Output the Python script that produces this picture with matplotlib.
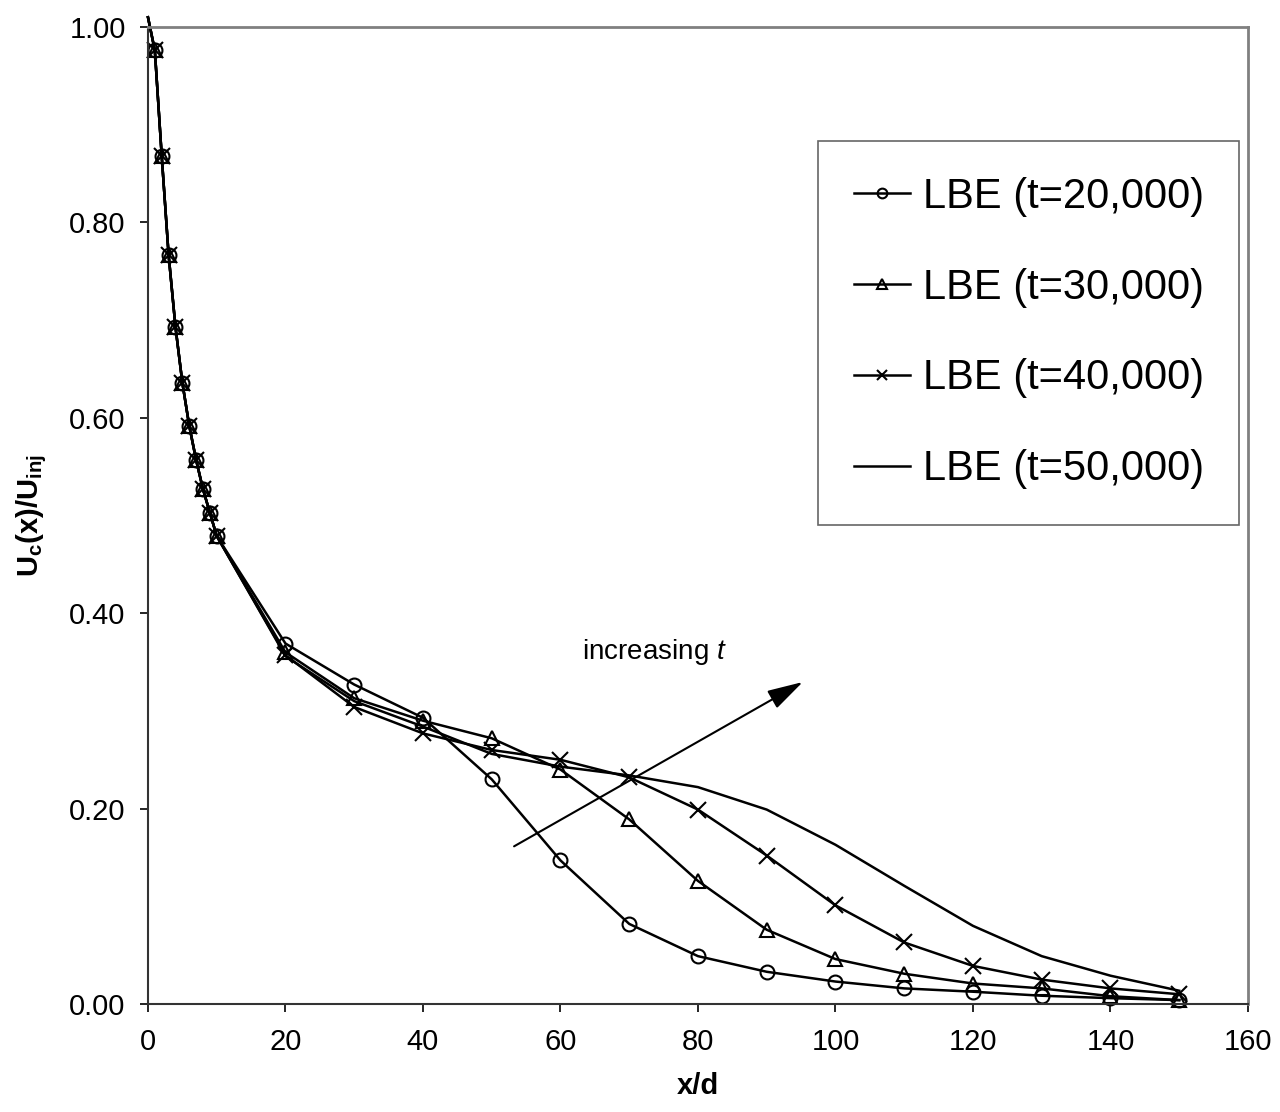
import numpy as np
import matplotlib
matplotlib.use("Agg")
import matplotlib.pyplot as plt

plt.rcParams['font.family'] = ['Liberation Sans', 'DejaVu Sans']
plt.rcParams['mathtext.fontset'] = 'custom'
plt.rcParams['mathtext.rm'] = 'Liberation Sans'
plt.rcParams['mathtext.it'] = 'Liberation Sans:italic'
plt.rcParams['mathtext.bf'] = 'Liberation Sans:bold'

# x/d positions (first point has no marker)
x_d = [0, 1, 2, 3, 4, 5, 6, 7, 8, 9, 10, 20, 30, 40, 50, 60, 70, 80, 90, 100, 110, 120, 130, 140, 150]

# near-field values shared by every run
near = [1.01, 0.976, 0.868, 0.767, 0.693, 0.636, 0.592, 0.557, 0.527, 0.503, 0.479]

t20k = near + [0.369, 0.327, 0.293, 0.230, 0.147, 0.082, 0.049, 0.033, 0.023, 0.016, 0.0126, 0.0085, 0.006, 0.004]
t30k = near + [0.360, 0.313, 0.290, 0.272, 0.240, 0.189, 0.126, 0.076, 0.046, 0.031, 0.021, 0.016, 0.008, 0.004]
t40k = near + [0.357, 0.304, 0.277, 0.260, 0.250, 0.232, 0.199, 0.152, 0.101, 0.063, 0.039, 0.025, 0.016, 0.010]
t50k = near + [0.356, 0.310, 0.284, 0.256, 0.243, 0.234, 0.222, 0.199, 0.163, 0.121, 0.080, 0.049, 0.029, 0.0136]

labels = ["LBE (t=20,000)", "LBE (t=30,000)", "LBE (t=40,000)", "LBE (t=50,000)"]

fig = plt.figure(figsize=(12.8, 11.12), dpi=100)
ax = fig.add_axes([0.1156, 0.0971, 0.8594, 0.8786])

marks = slice(1, None)
ax.plot(x_d, t20k, color='black', lw=1.8, marker='o', ms=10, mfc='none', mew=1.5,
        markevery=marks, label=labels[0], clip_on=False)
ax.plot(x_d, t30k, color='black', lw=1.8, marker='^', ms=10, mfc='none', mew=1.5,
        markevery=marks, label=labels[1], clip_on=False)
ax.plot(x_d, t40k, color='black', lw=1.8, marker='x', ms=11, mew=1.5,
        markevery=marks, label=labels[2], clip_on=False)
ax.plot(x_d, t50k, color='black', lw=1.8, label=labels[3], clip_on=False)

ax.set_xlim(0, 160)
ax.set_ylim(0, 1.0)
ax.set_xticks(np.arange(0, 161, 20))
ax.set_yticks(np.arange(0, 1.01, 0.2))
ax.set_yticklabels([f"{v:.2f}" for v in np.arange(0, 1.01, 0.2)])
ax.tick_params(axis='both', direction='out', length=6, width=1.2, labelsize=21, color='black')
ax.tick_params(axis='x', pad=11)
ax.tick_params(axis='y', pad=10)

for side in ['top', 'right']:
    ax.spines[side].set_color('#808080')
    ax.spines[side].set_linewidth(2)
for side in ['left', 'bottom']:
    ax.spines[side].set_color('#333333')
    ax.spines[side].set_linewidth(1.5)

ax.set_xlabel("x/d", fontsize=21, fontweight='bold')
ax.xaxis.set_label_coords(0.5, -0.07)
ax.set_ylabel(r"$\mathbf{U_c(x)/U_{inj}}$", fontsize=21)
ax.yaxis.set_label_coords(-0.09, 0.5)

# trend arrow
ax.annotate('', xy=(95.6, 0.331), xytext=(52.9, 0.160),
            arrowprops=dict(arrowstyle='-|>,head_width=0.28,head_length=1.0',
                            color='black', lw=1.5, mutation_scale=22))
ax.text(73.7, 0.360, r"increasing $t$", fontsize=20, ha='center', va='center')

leg = ax.legend(loc='upper right', bbox_to_anchor=(0.992, 0.883), fontsize=30,
                frameon=True, fancybox=False, edgecolor='#404040', handlelength=1.35,
                handletextpad=0.3, labelspacing=1.22, borderpad=0.85, borderaxespad=0,
                markerscale=0.7)
leg.get_frame().set_linewidth(1.2)

fig.savefig("out.png", dpi=100)
